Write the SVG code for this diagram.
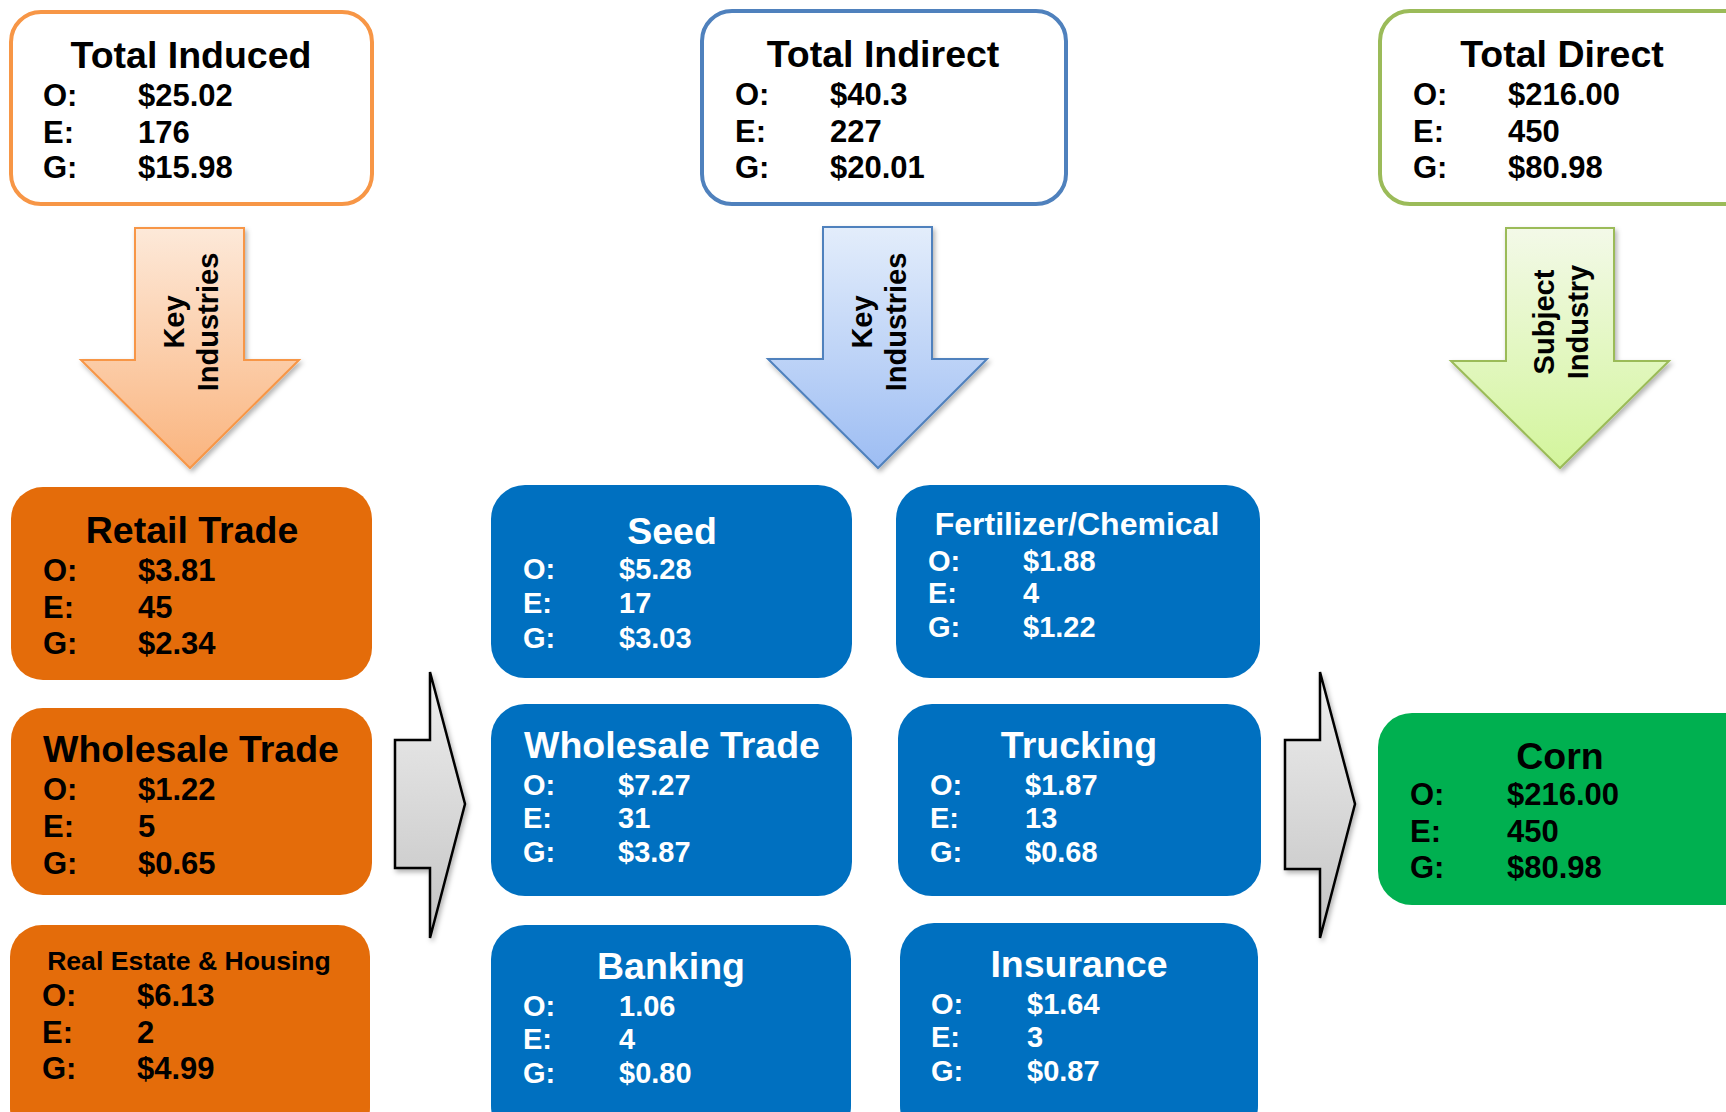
<svg xmlns="http://www.w3.org/2000/svg" width="1726" height="1112" viewBox="0 0 1726 1112">
<defs>
<linearGradient id="gOr" x1="0" y1="0" x2="0" y2="1"><stop offset="0" stop-color="#FDE9D9"/><stop offset="1" stop-color="#FAB47E"/></linearGradient>
<linearGradient id="gBl" x1="0" y1="0" x2="0" y2="1"><stop offset="0" stop-color="#E3EDFB"/><stop offset="1" stop-color="#9DBDF3"/></linearGradient>
<linearGradient id="gGr" x1="0" y1="0" x2="0" y2="1"><stop offset="0" stop-color="#F3F9E8"/><stop offset="1" stop-color="#D3F59C"/></linearGradient>
<linearGradient id="gGy" x1="0" y1="0" x2="0" y2="1"><stop offset="0" stop-color="#EEEEEE"/><stop offset="1" stop-color="#C4C4C4"/></linearGradient>
<filter id="sh" x="-20%" y="-20%" width="150%" height="150%"><feDropShadow dx="2" dy="3" stdDeviation="2.5" flood-color="#000" flood-opacity="0.3"/></filter>
</defs>
<style>
text{font-family:"Liberation Sans",Arial,sans-serif;font-weight:bold}
.t{font-size:37.5px;text-anchor:middle}
.ts{font-size:32px;text-anchor:middle}
.tr{font-size:26.6px;text-anchor:middle}
.v{font-size:31px}
.vb{font-size:29px}
.k{font-size:29px;text-anchor:middle}
.blk{fill:#000}
.wht{fill:#fff}
.frame{fill:#fff;stroke-width:4}
</style>
<rect width="1726" height="1112" fill="#fff"/>
<g id="connectors">
<path d="M135,228 H244 V360 H299 L190,468 L81,360 H135 Z" fill="url(#gOr)" stroke="#F79646" stroke-width="2" filter="url(#sh)"/>
<path d="M823,227 H932 V359 H987 L878,468 L768,359 H823 Z" fill="url(#gBl)" stroke="#4F81BD" stroke-width="2" filter="url(#sh)"/>
<path d="M1506,228 H1614 V361 H1669 L1560,468 L1451,361 H1506 Z" fill="url(#gGr)" stroke="#9BBB59" stroke-width="2" filter="url(#sh)"/>
<text class="k blk" transform="translate(190,322) rotate(-90)"><tspan x="0" y="-6">Key</tspan><tspan x="0" y="28">Industries</tspan></text>
<text class="k blk" transform="translate(878,322) rotate(-90)"><tspan x="0" y="-6">Key</tspan><tspan x="0" y="28">Industries</tspan></text>
<text class="k blk" transform="translate(1560,322) rotate(-90)"><tspan x="0" y="-6">Subject</tspan><tspan x="0" y="28">Industry</tspan></text>
<path d="M395,740 H430 V672 L465,804 L430,938 V868 H395 Z" fill="url(#gGy)" stroke="#000" stroke-width="2.5" filter="url(#sh)"/>
<path d="M1285,740 H1320 V672 L1355,804 L1320,938 V869 H1285 Z" fill="url(#gGy)" stroke="#000" stroke-width="2.5" filter="url(#sh)"/>
</g>
<g id="total-induced">
<rect class="frame" x="11" y="12" width="361" height="192" rx="30" stroke="#F79646"/>
<text class="t blk" x="191" y="68">Total Induced</text>
<text class="v blk"><tspan x="43" y="106">O:</tspan><tspan x="138" y="106">$25.02</tspan><tspan x="43" y="143">E:</tspan><tspan x="138" y="143">176</tspan><tspan x="43" y="178">G:</tspan><tspan x="138" y="178">$15.98</tspan></text>
</g>
<g id="total-indirect">
<rect class="frame" x="702" y="11" width="364" height="193" rx="30" stroke="#4F81BD"/>
<text class="t blk" x="883" y="67">Total Indirect</text>
<text class="v blk"><tspan x="735" y="105">O:</tspan><tspan x="830" y="105">$40.3</tspan><tspan x="735" y="142">E:</tspan><tspan x="830" y="142">227</tspan><tspan x="735" y="178">G:</tspan><tspan x="830" y="178">$20.01</tspan></text>
</g>
<g id="total-direct">
<rect class="frame" x="1380" y="11" width="390" height="193" rx="30" stroke="#9BBB59"/>
<text class="t blk" x="1562" y="67">Total Direct</text>
<text class="v blk"><tspan x="1413" y="105">O:</tspan><tspan x="1508" y="105">$216.00</tspan><tspan x="1413" y="142">E:</tspan><tspan x="1508" y="142">450</tspan><tspan x="1413" y="178">G:</tspan><tspan x="1508" y="178">$80.98</tspan></text>
</g>
<g id="retail-trade">
<rect x="11" y="487" width="361" height="193" rx="32" fill="#E46C0A"/>
<text class="t blk" x="192" y="543">Retail Trade</text>
<text class="v blk"><tspan x="43" y="581">O:</tspan><tspan x="138" y="581">$3.81</tspan><tspan x="43" y="618">E:</tspan><tspan x="138" y="618">45</tspan><tspan x="43" y="654">G:</tspan><tspan x="138" y="654">$2.34</tspan></text>
</g>
<g id="wholesale-trade-induced">
<rect x="11" y="708" width="361" height="187" rx="32" fill="#E46C0A"/>
<text class="t blk" x="191" y="762">Wholesale Trade</text>
<text class="v blk"><tspan x="43" y="800">O:</tspan><tspan x="138" y="800">$1.22</tspan><tspan x="43" y="837">E:</tspan><tspan x="138" y="837">5</tspan><tspan x="43" y="874">G:</tspan><tspan x="138" y="874">$0.65</tspan></text>
</g>
<g id="real-estate">
<rect x="10" y="925" width="360" height="215" rx="32" fill="#E46C0A"/>
<text class="tr blk" x="189" y="970">Real Estate &amp; Housing</text>
<text class="v blk"><tspan x="42" y="1006">O:</tspan><tspan x="137" y="1006">$6.13</tspan><tspan x="42" y="1043">E:</tspan><tspan x="137" y="1043">2</tspan><tspan x="42" y="1079">G:</tspan><tspan x="137" y="1079">$4.99</tspan></text>
</g>
<g id="seed">
<rect x="491" y="485" width="361" height="193" rx="34" fill="#0070C0"/>
<text class="t wht" x="672" y="544">Seed</text>
<text class="vb wht"><tspan x="523" y="579">O:</tspan><tspan x="619" y="579">$5.28</tspan><tspan x="523" y="613">E:</tspan><tspan x="619" y="613">17</tspan><tspan x="523" y="648">G:</tspan><tspan x="619" y="648">$3.03</tspan></text>
</g>
<g id="fertilizer">
<rect x="896" y="485" width="364" height="193" rx="34" fill="#0070C0"/>
<text class="ts wht" x="1077" y="535">Fertilizer/Chemical</text>
<text class="vb wht"><tspan x="928" y="571">O:</tspan><tspan x="1023" y="571">$1.88</tspan><tspan x="928" y="603">E:</tspan><tspan x="1023" y="603">4</tspan><tspan x="928" y="637">G:</tspan><tspan x="1023" y="637">$1.22</tspan></text>
</g>
<g id="wholesale-trade-indirect">
<rect x="491" y="704" width="361" height="192" rx="34" fill="#0070C0"/>
<text class="t wht" x="672" y="758">Wholesale Trade</text>
<text class="vb wht"><tspan x="523" y="795">O:</tspan><tspan x="618" y="795">$7.27</tspan><tspan x="523" y="828">E:</tspan><tspan x="618" y="828">31</tspan><tspan x="523" y="862">G:</tspan><tspan x="618" y="862">$3.87</tspan></text>
</g>
<g id="trucking">
<rect x="898" y="704" width="363" height="192" rx="34" fill="#0070C0"/>
<text class="t wht" x="1079" y="758">Trucking</text>
<text class="vb wht"><tspan x="930" y="795">O:</tspan><tspan x="1025" y="795">$1.87</tspan><tspan x="930" y="828">E:</tspan><tspan x="1025" y="828">13</tspan><tspan x="930" y="862">G:</tspan><tspan x="1025" y="862">$0.68</tspan></text>
</g>
<g id="banking">
<rect x="491" y="925" width="360" height="215" rx="34" fill="#0070C0"/>
<text class="t wht" x="671" y="979">Banking</text>
<text class="vb wht"><tspan x="523" y="1016">O:</tspan><tspan x="619" y="1016">1.06</tspan><tspan x="523" y="1049">E:</tspan><tspan x="619" y="1049">4</tspan><tspan x="523" y="1083">G:</tspan><tspan x="619" y="1083">$0.80</tspan></text>
</g>
<g id="insurance">
<rect x="900" y="923" width="358" height="217" rx="34" fill="#0070C0"/>
<text class="t wht" x="1079" y="977">Insurance</text>
<text class="vb wht"><tspan x="931" y="1014">O:</tspan><tspan x="1027" y="1014">$1.64</tspan><tspan x="931" y="1047">E:</tspan><tspan x="1027" y="1047">3</tspan><tspan x="931" y="1081">G:</tspan><tspan x="1027" y="1081">$0.87</tspan></text>
</g>
<g id="corn">
<rect x="1378" y="713" width="390" height="192" rx="34" fill="#00B050"/>
<text class="t blk" x="1560" y="769">Corn</text>
<text class="v blk"><tspan x="1410" y="805">O:</tspan><tspan x="1507" y="805">$216.00</tspan><tspan x="1410" y="842">E:</tspan><tspan x="1507" y="842">450</tspan><tspan x="1410" y="878">G:</tspan><tspan x="1507" y="878">$80.98</tspan></text>
</g>
</svg>
